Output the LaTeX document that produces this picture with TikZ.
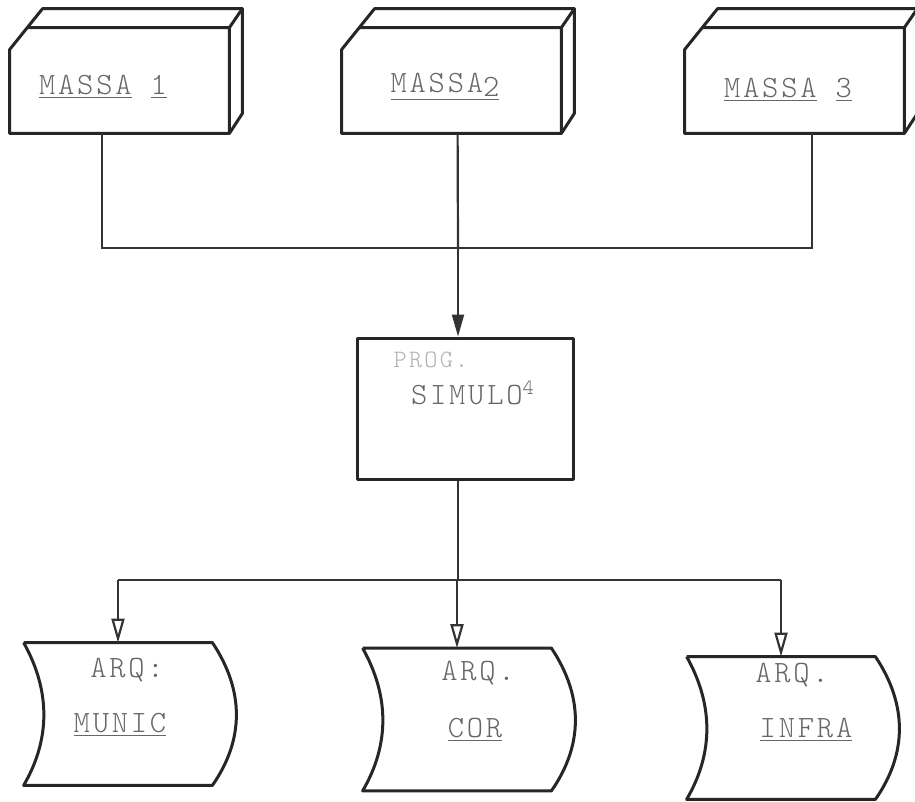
\documentclass[tikz,border=0pt]{standalone}
\usepackage{fontspec}
\newfontfamily\typer[LetterSpace=9]{Latin Modern Mono Light}
\usetikzlibrary{arrows.meta,calc}

\begin{document}
\begin{tikzpicture}[x=0.5pt, y=-0.5pt,
        ink/.style={draw=black!85, line width=1.5pt, line join=round},
        wire/.style={draw=black!80, line width=1.1pt},
        face/.style={minimum width=109.5pt, minimum height=52.5pt, inner sep=0pt},
        arq/.style={minimum width=94pt, minimum height=71pt, inner sep=0pt},
        lbl/.style={font=\typer\fontsize{15.5}{18}\selectfont, text=black!60, inner sep=0pt},
        fill tip/.style={-{Triangle[length=11pt, width=6pt]}},
        open tip/.style={-{Triangle[open, length=12pt, width=6.5pt]}}]
        \useasboundingbox (0,0) rectangle (915,802);

        % Draw the three input boxes
        \node[face] (m1) at (119.5,80.5) {};
        \node[face] (m2) at (451.5,80.5) {};
        \node[face] (m3) at (794.5,80.5) {};
        \foreach \b in {m1,m2,m3} {
            \draw[ink] (\b.south west) -- ($(\b.north west)+(0,22)$) -- ($(\b.north west)+(33,-19)$)
                -- ($(\b.north east)+(13,-19)$) -- ($(\b.south east)+(13,-20)$) -- (\b.south east) -- cycle;
            \draw[ink] ($(\b.north west)+(18,0)$) -- (\b.north east) -- ($(\b.north east)+(13,-19)$)
                (\b.north east) -- (\b.south east);
        }
        \node[lbl] (t1) at (103,87) {\underline{MASSA} \underline{1}};
        \node[lbl] (t2) at (445,87) {\underline{MASSA\raisebox{-.35ex}{2}}};
        \node[lbl] (t3) at (788,90) {\underline{MASSA} \underline{3}};

        % Draw the program box
        \node[minimum width=108pt, minimum height=70.5pt, ink] (sim) at (465,408.5) {};
        \node[lbl, text=black!30, font=\typer\fontsize{12.5}{14}\selectfont] (prog) at (431,360) {PROG.};
        \node[lbl] (simulo) at (473,393) {SIMULO\textsuperscript{4}};

        % Draw the three output files
        \node[arq] (a1) at (118,714) {};
        \node[arq] (a2) at (457,719.5) {};
        \node[arq] (a3) at (781,728) {};
        \foreach \f in {a1,a2,a3} {
            \draw[ink] (\f.north west) -- (\f.north east) .. controls +(32,48) and +(32,-46) .. (\f.south east)
                -- (\f.south west) .. controls +(27,-46) and +(27,48) .. (\f.north west);
        }
        \node[lbl] (q1) at (127,670) {ARQ:};
        \node[lbl] (n1) at (120,725) {\underline{MUNIC}};
        \node[lbl] (q2) at (478,673) {ARQ.};
        \node[lbl] (n2) at (475,730) {\underline{COR}};
        \node[lbl] (q3) at (792,675) {ARQ.};
        \node[lbl] (n3) at (806,730) {\underline{INFRA}};

        % Join the inputs
        \coordinate (d1) at ($(m1.south west)+(92,0)$);
        \coordinate (d2) at ($(m2.south west)+(116,0)$);
        \coordinate (d3) at ($(m3.south west)+(127,0)$);
        \coordinate (bus) at (458,248);
        \draw[wire] (d1) -- (d1 |- bus) -- (d3 |- bus) -- (d3);
        \draw[wire] (d2) -- (bus);
        \draw[wire, fill tip] (bus) -- (bus |- sim.north);

        % Split the outputs
        \coordinate (split) at (458,580);
        \draw[wire] (bus |- sim.south) -- (split);
        \draw[wire] (a1.north |- split) -- (a3.north |- split);
        \foreach \f in {a1,a2,a3}
            \draw[wire, open tip] (\f.north |- split) -- (\f.north);
    \end{tikzpicture}
\end{document}
